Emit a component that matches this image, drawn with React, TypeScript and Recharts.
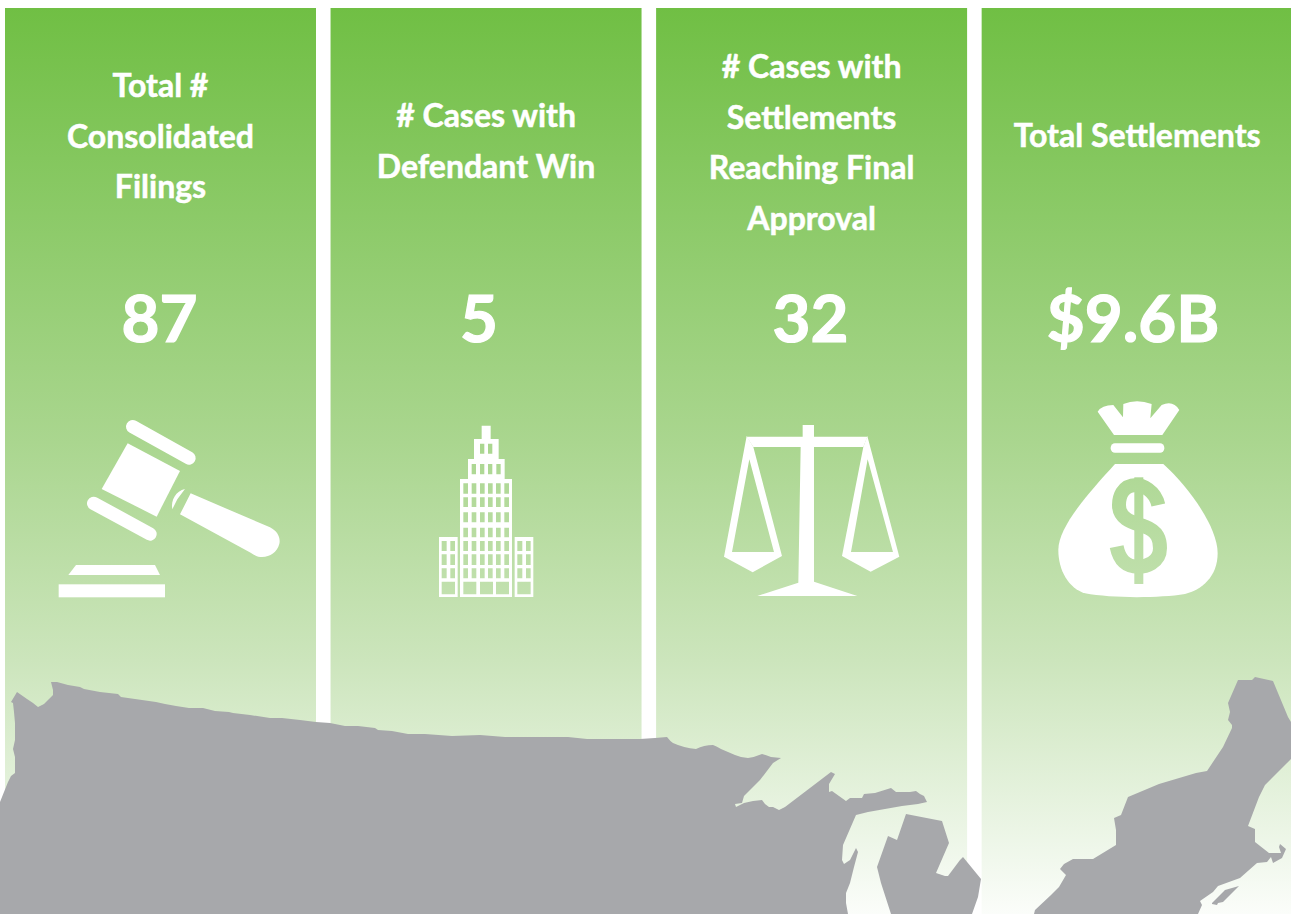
import React from "react";
import { BarChart, Bar, XAxis, YAxis, LabelList } from "recharts";

const categories = ["filings", "defendantWin", "finalApproval", "settlements"];
const titleLines = [
  ["Total #", "Consolidated", "Filings"],
  ["# Cases with", "Defendant Win"],
  ["# Cases with", "Settlements", "Reaching Final", "Approval"],
  ["Total Settlements"],
];
const firstBaselines = [97, 127, 78, 147];
const valueLabels = ["87", "5", "32", "$9.6B"];
const valueShift = [-1, -7, -1, -4];
const panelHeights = [1, 1, 1, 1];

const chartData = categories.map((name, i) => ({
  name,
  height: panelHeights[i],
  title: titleLines[i],
  baseline: firstBaselines[i],
  value: valueLabels[i],
  shift: valueShift[i],
}));

const FONT = "Lato, Carlito, sans-serif";

function PanelText(props: any) {
  const { x, width, index } = props;
  const d = chartData[index];
  const cx = x + width / 2;
  return (
    <g fontFamily={FONT} fontWeight={700} fill="#ffffff" stroke="#ffffff" textAnchor="middle">
      {d.title.map((line: string, i: number) => (
        <text key={i} x={cx} y={d.baseline + i * 50.7} fontSize={32} strokeWidth={0.5}>
          {line}
        </text>
      ))}
      <text x={cx + d.shift} y={342} fontSize={65.5} strokeWidth={1.2}>
        {d.value}
      </text>
    </g>
  );
}

function rectPath(x0: number, y0: number, x1: number, y1: number) {
  return `M${x0} ${y0}H${x1}V${y1}H${x0}Z`;
}

function buildingPath() {
  let d = "";
  d += rectPath(185, 32, 212, 72);
  d += rectPath(162, 72, 236, 132);
  [180, 204].forEach((x) => (d += rectPath(x, 86, x + 13, 116)));
  d += rectPath(144, 132, 254, 192);
  [155, 180, 204, 229].forEach((x) => (d += rectPath(x, 147, x + 13, 178)));
  d += rectPath(120, 192, 276, 546);
  const rows: [number, number][] = [
    [205, 236],
    [247, 276],
    [292, 322],
    [338, 367],
    [378, 408],
    [418, 450],
    [460, 490],
  ];
  rows.forEach(([a, b]) =>
    [130, 155, 180, 204, 228, 253].forEach((x) => (d += rectPath(x, a, x + 14, b)))
  );
  [130, 180, 228].forEach((x) => (d += rectPath(x, 500, x + 39, 538)));
  [57, 284].forEach((w) => {
    d += rectPath(w, 366, w + 56, 546);
    rows.slice(4).forEach(([a, b]) => {
      d += rectPath(w + 8, a, w + 23, b);
      d += rectPath(w + 34, a, w + 48, b);
    });
    d += rectPath(w + 8, 500, w + 48, 538);
  });
  return d;
}

const MAP_WEST =
  "M0 802L4 792L8 782L11 776L15 773L15 757L13 749L15 740L15 723L14 712L13 703L11 702L17 692L27 699L33 703L38 707L44 704L48 700L53 695L53 690L51 682L57 682L68 685L80 687L84 689L100 692L118 694L121 697L135 699L156 702L165 704L176 706L189 708L203 708L215 711L229 712L233 713L250 715L270 718L282 718L300 720L316 722L330 723L345 726L358 726L375 728L378 730L392 731L408 734L425 734L452 736L480 735L505 737L568 737L587 739L640 739L655 738L667 737Q670 741 673 743Q684 748 696 749Q704 745 713 745Q716 746 721 749L735 755Q742 758 748 758Q755 757 762 754Q766 755 771 757L781 758L773 763L760 780L744 796L742 803L735 804L736 807L744 803L753 801L762 800L765 804L769 807L773 807L779 810L785 807L831 772L835 774L829 784L829 792L832 791L846 801L850 798L862 798L864 794L875 793L891 788L896 792L910 792L916 791L920 794L924 796L927 802L918 804L902 806L868 812L856 815L843 845L842 860L844 864L850 860L856 848L858 852L854 867L850 883L846 893L846 903L848 914L0 914Z";
const MAP_MICHIGAN =
  "M891 914L881 883L877 867L888 836L897 840L906 814L942 821L949 843L936 873L945 876L948 876L960 860L963 857L981 879L978 897L972 914Z";
const MAP_NORTHEAST =
  "M1034 914L1035 910L1051 895L1059 887L1066 875L1060 869L1064 864L1073 859L1093 859L1116 845L1116 830L1114 818L1121 815L1128 797L1159 784L1196 773L1207 771L1223 747L1232 728L1232 725L1228 720L1230 712L1228 703L1238 680L1252 680L1255 677L1273 681L1288 717L1291 722L1291 759L1265 785L1259 797L1248 826L1255 829L1255 842L1269 853L1281 853L1279 847L1280 844L1286 849L1282 858L1273 863L1271 857L1267 862L1257 863L1240 878L1218 886L1213 892L1200 901L1202 905L1198 914Z";
const MAP_ISLAND = "M1212 903L1225 890L1239 886L1223 902L1218 903L1217 905L1212 904Z";

function Gavel() {
  return (
    <g transform="translate(40 410) scale(0.3333)" fill="#fff">
      <line x1="278" y1="50" x2="447" y2="144" stroke="#fff" strokeWidth="40" strokeLinecap="round" />
      <line x1="161" y1="280" x2="330" y2="372" stroke="#fff" strokeWidth="40" strokeLinecap="round" />
      <path d="M263 100L420 183L350 320L185 237Z" />
      <path d="M452 250L690 352C715 365 722 385 718 402C710 430 685 445 655 440C648 438 640 433 632 428L420 313Z" />
      <path d="M397 298C392 270 408 243 435 237L412 268Z" />
      <path d="M108 465L345 465L360 495L85 495Z" />
      <rect x="56" y="523" width="319" height="39" />
    </g>
  );
}

function Building() {
  return (
    <g transform="translate(420 415) scale(0.3333)" fill="#fff">
      <path fillRule="evenodd" d={buildingPath()} />
    </g>
  );
}

function Scales() {
  return (
    <g transform="translate(710 415) scale(0.3333)" fill="#fff">
      <path d="M278 30H312V65H472L460 96H312V500L442 543H142L265 503L272 96H130L110 65H278Z" />
      <path fillRule="evenodd" d="M110 63L42 425L128 472L216 423L130 96ZM118 133L66 411H192Z" />
      <path fillRule="evenodd" d="M472 63L460 96L396 423L482 470L568 425ZM473 133L423 411H549Z" />
    </g>
  );
}

function MoneyBag() {
  return (
    <g>
      <defs>
        <mask id="dollarCut" maskUnits="userSpaceOnUse" x="0" y="0" width="600" height="700">
          <rect x="0" y="0" width="600" height="700" fill="#fff" />
          <path
            d="M340 345C330 300 290 285 275 285C230 285 222 325 222 345C222 395 280 400 300 410C340 425 345 450 345 475C345 520 300 530 280 530C240 530 222 505 215 470"
            fill="none"
            stroke="#000"
            strokeWidth="42"
          />
          <rect x="268" y="262" width="27" height="320" fill="#000" />
        </mask>
      </defs>
      <g transform="translate(1045 390) scale(0.3333)" fill="#fff">
        <path d="M158 65Q170 45 205 45L234 82L235 42Q275 25 320 42L316 85L350 45Q385 30 403 60L352 135L207 135Z" />
        <rect x="197" y="160" width="161" height="28" rx="13" />
        <path
          mask="url(#dollarCut)"
          d="M210 222L355 222C430 290 518 410 518 490C518 560 470 600 420 612C340 625 200 625 120 610C70 595 40 540 40 480C40 410 130 310 210 222Z"
        />
      </g>
    </g>
  );
}

const ICONS = [Gavel, Building, Scales, MoneyBag];

function PanelIcon(props: any) {
  const Icon = ICONS[props.index];
  return <Icon />;
}

function UsMap(props: any) {
  if (props.index !== categories.length - 1) return null;
  return (
    <g fill="#A7A8AB">
      <path d={MAP_WEST} />
      <path d={MAP_MICHIGAN} />
      <path d={MAP_NORTHEAST} />
      <path d={MAP_ISLAND} />
    </g>
  );
}

export default function App() {
  return (
    <div style={{ position: "absolute", left: 0, top: 0, width: 1291, height: 914, overflow: "hidden", background: "#fff" }}>
      <BarChart
        width={1291}
        height={914}
        data={chartData}
        margin={{ top: 8, right: -9.2, bottom: 0, left: -2 }}
        barSize={311}
      >
        <defs>
          <linearGradient id="panelGrad" x1="0" y1="0" x2="0" y2="1">
            <stop offset="0" stopColor="#70BF44" />
            <stop offset="0.48" stopColor="#AAD68F" />
            <stop offset="0.72" stopColor="#CCE5BC" />
            <stop offset="1" stopColor="#FBFDFA" />
          </linearGradient>
        </defs>
        <XAxis dataKey="name" hide />
        <YAxis hide domain={[0, 1]} />
        <Bar dataKey="height" fill="url(#panelGrad)" isAnimationActive={false}>
          <LabelList dataKey="value" content={PanelText as any} />
          <LabelList dataKey="name" content={PanelIcon as any} />
          <LabelList dataKey="name" content={UsMap as any} />
        </Bar>
      </BarChart>
    </div>
  );
}
